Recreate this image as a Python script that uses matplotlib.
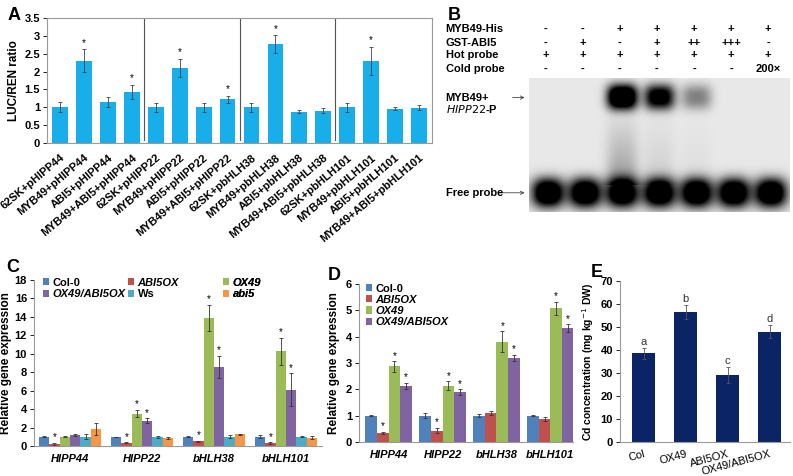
import numpy as np
import matplotlib
matplotlib.use("Agg")
import matplotlib.pyplot as plt
from matplotlib.patches import FancyArrowPatch

plt.rcParams['font.family'] = ['Liberation Sans', 'DejaVu Sans']

# ---- panel A data
a_labels = ['62SK+pHIPP44', 'MYB49+pHIPP44', 'ABI5+pHIPP44', 'MYB49+ABI5+pHIPP44',
            '62SK+pHIPP22', 'MYB49+pHIPP22', 'ABI5+pHIPP22', 'MYB49+ABI5+pHIPP22',
            '62SK+pbHLH38', 'MYB49+pbHLH38', 'ABI5+pbHLH38', 'MYB49+ABI5+pbHLH38',
            '62SK+pbHLH101', 'MYB49+pbHLH101', 'ABI5+pbHLH101', 'MYB49+ABI5+pbHLH101']
a_values = [1.0, 2.3, 1.15, 1.43, 1.0, 2.1, 1.0, 1.22, 1.0, 2.77, 0.88, 0.9, 1.0, 2.3, 0.96, 0.99]
a_errors = [0.14, 0.32, 0.15, 0.2, 0.13, 0.25, 0.12, 0.09, 0.12, 0.24, 0.04, 0.07, 0.12, 0.4, 0.05, 0.07]
a_star = [0, 1, 0, 1, 0, 1, 0, 1, 0, 1, 0, 0, 0, 1, 0, 0]

# ---- panel B data (EMSA)
b_rows = ['MYB49-His', 'GST-ABI5', 'Hot probe', 'Cold probe']
b_marks = [['-', '-', '+', '+', '+', '+', '+'],
           ['-', '+', '-', '+', '++', '+++', '-'],
           ['+', '+', '+', '+', '+', '+', '+'],
           ['-', '-', '-', '-', '-', '-', '200\u00d7']]
shift_band = [0, 0, 1.0, 0.75, 0.28, 0, 0]
free_band = [1, 1, 1, 1, 1, 1, 1]
smear = [0, 0, 0.3, 0.1, 0.04, 0, 0]

# ---- panel C data
genes = ['HIPP44', 'HIPP22', 'bHLH38', 'bHLH101']
c_lines = ['Col-0', 'ABI5OX', 'OX49', 'OX49/ABI5OX', 'Ws', 'abi5']
c_values = [[1.0, 1.0, 1.0, 1.0],
            [0.25, 0.35, 0.5, 0.3],
            [1.0, 3.5, 13.9, 10.25],
            [1.2, 2.75, 8.6, 6.1],
            [1.0, 1.0, 1.0, 1.0],
            [1.8, 0.85, 1.25, 0.9]]
c_errors = [[0.05, 0.03, 0.05, 0.15],
            [0.1, 0.05, 0.05, 0.1],
            [0.05, 0.4, 1.4, 1.5],
            [0.1, 0.25, 1.2, 1.8],
            [0.25, 0.1, 0.15, 0.05],
            [0.65, 0.1, 0.1, 0.15]]
c_star = [[0, 0, 0, 0], [1, 1, 1, 1], [0, 1, 1, 1], [0, 1, 1, 1], [0, 0, 0, 0], [0, 0, 0, 0]]

# ---- panel D data
d_lines = ['Col-0', 'ABI5OX', 'OX49', 'OX49/ABI5OX']
d_values = [[1.0, 1.0, 1.0, 1.0],
            [0.35, 0.43, 1.1, 0.88],
            [2.87, 2.13, 3.8, 5.07],
            [2.13, 1.9, 3.2, 4.32]]
d_errors = [[0.02, 0.1, 0.06, 0.03],
            [0.03, 0.1, 0.06, 0.07],
            [0.2, 0.17, 0.4, 0.25],
            [0.12, 0.1, 0.12, 0.15]]
d_star = [[0, 0, 0, 0], [1, 1, 0, 0], [1, 1, 1, 1], [1, 1, 1, 1]]

# ---- panel E data
e_labels = ['Col', 'OX49', 'ABI5OX', 'OX49/ABI5OX']
e_values = [38.5, 56.5, 29.0, 48.0]
e_errors = [2.5, 3.0, 3.5, 2.8]
e_letters = ['a', 'b', 'c', 'd']

colors6 = ['#4F81BD', '#C0504D', '#9BBB59', '#8064A2', '#4BACC6', '#F79646']
italic_names = {'ABI5OX', 'OX49', 'OX49/ABI5OX', 'abi5'}

fig = plt.figure(figsize=(7.93, 4.76), dpi=100)


def style_ticks(ax, size=8):
    ax.tick_params(axis='y', length=3, width=0.6, labelsize=size, pad=2)
    ax.tick_params(axis='x', length=0, labelsize=size)
    for t in ax.get_yticklabels():
        t.set_fontweight('bold')


def style_legend(leg):
    for t in leg.get_texts():
        t.set_fontweight('bold')
        if t.get_text() in italic_names:
            t.set_fontstyle('italic')


# ================= A
axA = fig.add_axes([0.0593, 0.6996, 0.4855, 0.2626])
xa = np.arange(len(a_values))
axA.bar(xa, a_values, width=0.66, color='#17AEEA', yerr=a_errors,
        error_kw=dict(ecolor='#444444', elinewidth=0.6, capsize=1.5, capthick=0.6))
for i in range(len(a_values)):
    if a_star[i]:
        axA.text(xa[i], a_values[i] + a_errors[i] + 0.05, '*', ha='center', va='bottom', fontsize=7)
for sep in [3.5, 7.5, 11.5]:
    axA.plot([sep, sep], [0.07, 3.5], color='#555555', lw=0.8)
axA.set_xlim(-0.55, 15.55)
axA.set_ylim(0, 3.5)
axA.set_yticks(np.arange(0, 3.51, 0.5))
axA.set_yticklabels(['0', '0.5', '1', '1.5', '2', '2.5', '3', '3.5'])
axA.set_xticks(xa)
axA.set_xticklabels(a_labels, rotation=40, ha='right', rotation_mode='anchor',
                    fontweight='bold', fontsize=7.5)
axA.tick_params(axis='x', pad=7)
for s in axA.spines.values():
    s.set_color('#999999')
    s.set_linewidth(0.8)
style_ticks(axA)
axA.set_ylabel('LUC/REN ratio', fontweight='bold', fontsize=8.5, labelpad=3)
fig.text(0.010, 0.985, 'A', fontsize=13, fontweight='bold', va='top')

# ================= B
fig.text(0.565, 0.985, 'B', fontsize=13, fontweight='bold', va='top')
lane_x = [0.688 + i * 0.0468 for i in range(7)]
row_y = [0.939, 0.910, 0.884, 0.855]
for r, name in enumerate(b_rows):
    fig.text(0.562, row_y[r], name, fontsize=8, fontweight='bold', va='center')
    for i, m in enumerate(b_marks[r]):
        fig.text(lane_x[i], row_y[r], m, fontsize=8, fontweight='bold', va='center', ha='center')

axB = fig.add_axes([0.667, 0.5546, 0.329, 0.2815])
nx, ny = 261, 134
gx = np.linspace(0, 7, nx)
gy = np.linspace(0, 1, ny)
X, Y = np.meshgrid(gx, gy)
dark = np.zeros_like(X)
for i in range(7):
    dx = (X - (i + 0.5)) / 0.43
    dy_free = (Y - 0.86) / 0.11
    dark += free_band[i] * np.exp(-(np.abs(dx) ** 2.4 + np.abs(dy_free) ** 2.4)) * 1.5
    dy_shift = (Y - 0.14) / 0.095
    dark += shift_band[i] * np.exp(-(np.abs(dx / 0.95) ** 3 + np.abs(dy_shift) ** 2.5)) * 1.6
    dark += smear[i] * np.exp(-np.abs(dx) ** 3) * np.clip((Y - 0.22) / 0.5, 0, 1) * (Y < 0.8)
img = np.clip(0.91 - 0.91 * np.clip(dark, 0, 1), 0, 1)
axB.imshow(img, cmap='gray', vmin=0, vmax=1, extent=[0, 7, 1, 0], aspect='auto',
           interpolation='bilinear')
axB.set_xticks([])
axB.set_yticks([])
for s in axB.spines.values():
    s.set_visible(False)
fig.text(0.562, 0.795, 'MYB49+', fontsize=8, fontweight='bold', va='center')
fig.text(0.562, 0.772, '$\\bf{\\it{HIPP22}}$-P', fontsize=8, fontweight='bold', va='center')
fig.text(0.562, 0.595, 'Free probe', fontsize=8, fontweight='bold', va='center')
fig.add_artist(FancyArrowPatch((0.643, 0.795), (0.665, 0.795),
               arrowstyle='->', mutation_scale=6, lw=0.6, color='#444444'))
fig.add_artist(FancyArrowPatch((0.624, 0.595), (0.665, 0.595),
               arrowstyle='->', mutation_scale=6, lw=0.6, color='#444444'))

# ================= C
axC = fig.add_axes([0.0429, 0.063, 0.3631, 0.3488])
xg = np.arange(len(genes))
wc = 0.145
c_bars = []
for k in range(6):
    pos = xg + (k - 2.5) * wc
    b = axC.bar(pos, c_values[k], width=wc, color=colors6[k], label=c_lines[k], yerr=c_errors[k],
                error_kw=dict(ecolor='#333333', elinewidth=0.6, capsize=1.5, capthick=0.6))
    c_bars.append(b)
    for j in range(4):
        if c_star[k][j]:
            axC.text(pos[j], c_values[k][j] + c_errors[k][j] + 0.05, '*', ha='center',
                     va='bottom', fontsize=7)
axC.set_xlim(-0.5, 3.5)
axC.set_ylim(0, 18)
axC.set_yticks(np.arange(0, 19, 2))
axC.set_xticks(xg)
axC.set_xticklabels(genes, fontstyle='italic', fontweight='bold', fontsize=8)
axC.tick_params(axis='x', pad=6)
for s in ['top', 'right']:
    axC.spines[s].set_visible(False)
for s in ['left', 'bottom']:
    axC.spines[s].set_color('#999999')
style_ticks(axC)
axC.set_ylabel('Relative gene expression', fontweight='bold', fontsize=8.5, labelpad=2)
# legend laid out as three columns, two rows (row-wise reading order)
for col, x0 in enumerate([0.015, 0.31, 0.64]):
    idx = [col, col + 3]
    leg = axC.legend([c_bars[k] for k in idx], [c_lines[k] for k in idx],
                     loc='upper left', bbox_to_anchor=(x0, 1.04), frameon=False,
                     fontsize=8, handlelength=0.6, handleheight=0.6, handletextpad=0.3,
                     labelspacing=0.15, borderaxespad=0)
    style_legend(leg)
    axC.add_artist(leg)
fig.text(0.008, 0.455, 'C', fontsize=13, fontweight='bold', va='top')

# ================= D
axD = fig.add_axes([0.4527, 0.0714, 0.2699, 0.332])
wd = 0.217
for k in range(4):
    pos = xg + (k - 1.5) * wd
    axD.bar(pos, d_values[k], width=wd, color=colors6[k], label=d_lines[k], yerr=d_errors[k],
            error_kw=dict(ecolor='#333333', elinewidth=0.6, capsize=1.5, capthick=0.6))
    for j in range(4):
        if d_star[k][j]:
            axD.text(pos[j], d_values[k][j] + d_errors[k][j] + 0.02, '*', ha='center',
                     va='bottom', fontsize=7)
axD.set_xlim(-0.55, 3.42)
axD.set_ylim(0, 6)
axD.set_yticks(np.arange(0, 7, 1))
axD.set_xticks(xg)
axD.set_xticklabels(genes, fontstyle='italic', fontweight='bold', fontsize=8)
axD.tick_params(axis='x', pad=6)
for s in ['top', 'right']:
    axD.spines[s].set_visible(False)
for s in ['left', 'bottom']:
    axD.spines[s].set_color('#999999')
style_ticks(axD)
axD.set_ylabel('Relative gene expression', fontweight='bold', fontsize=8.5, labelpad=4)
legD = axD.legend(ncol=1, loc='upper left', bbox_to_anchor=(0.01, 1.03), frameon=False,
                  fontsize=8, handlelength=0.6, handleheight=0.6, handletextpad=0.3,
                  labelspacing=0.1, borderaxespad=0)
style_legend(legD)
fig.text(0.413, 0.44, 'D', fontsize=13, fontweight='bold', va='top')

# ================= E
axE = fig.add_axes([0.7818, 0.0714, 0.2142, 0.3383])
xe = np.arange(len(e_values))
axE.bar(xe, e_values, width=0.55, color='#0B2466', yerr=e_errors,
        error_kw=dict(ecolor='#555555', elinewidth=0.6, capsize=1.5, capthick=0.6))
for i in range(len(e_values)):
    axE.text(xe[i], e_values[i] + e_errors[i] + 0.5, e_letters[i], ha='center', va='bottom',
             fontsize=8, color='#333333')
axE.set_xlim(-0.57, 3.48)
axE.set_ylim(0, 70)
axE.set_yticks(np.arange(0, 71, 10))
axE.set_xticks(xe)
axE.set_xticklabels(e_labels, rotation=15, ha='right', rotation_mode='anchor', fontsize=7.5)
axE.tick_params(axis='x', pad=5)
for s in ['top', 'right']:
    axE.spines[s].set_visible(False)
for s in ['left', 'bottom']:
    axE.spines[s].set_color('#999999')
style_ticks(axE)
axE.set_ylabel('Cd concentration (mg kg$^{-1}$ DW)', fontweight='bold', fontsize=7.5, labelpad=3)
fig.text(0.745, 0.445, 'E', fontsize=13, fontweight='bold', va='top')

fig.savefig('out.png', dpi=100)
